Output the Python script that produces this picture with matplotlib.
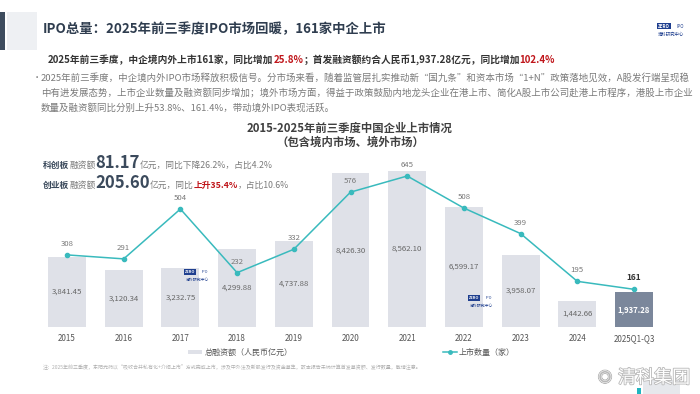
import matplotlib
matplotlib.use("Agg")
import matplotlib.pyplot as plt
import matplotlib.patheffects as pe
from matplotlib.patches import Rectangle

plt.rcParams['font.family'] = ['Noto Sans CJK SC', 'DejaVu Sans']

W, H = 700, 394

years = ['2015', '2016', '2017', '2018', '2019', '2020', '2021', '2022', '2023', '2024', '2025Q1-Q3']
financing = [3841.45, 3120.34, 3232.75, 4299.88, 4737.88, 8426.30, 8562.10, 6599.17, 3958.07, 1442.66, 1937.28]
ipo_count = [308, 291, 504, 232, 332, 576, 645, 508, 399, 195, 161]

title = 'IPO总量：2025年前三季度IPO市场回暖，161家中企上市'
body_lines = [
    '2025年前三季度，中企境内外IPO市场释放积极信号。分市场来看，随着监管层扎实推动新“国九条”和资本市场“1+N”政策落地见效，A股发行端呈现稳',
    '中有进发展态势，上市企业数量及融资额同步增加；境外市场方面，得益于政策鼓励内地龙头企业在港上市、简化A股上市公司赴港上市程序，港股上市企业',
    '数量及融资额同比分别上升53.8%、161.4%，带动境外IPO表现活跃。',
]
footnote = ('注：2025年前三季度，东阳光药以“吸收合并私有化+介绍上市”方式完成上市，涉及中外法及新股发行及资金募集，'
            '故本报告未纳计算首发募资额、发行数量，敬请注意。')

NAVY = '#2f3d4f'
RED = '#c0161b'
GRAY = '#7a7a7a'
BAR = '#dfe1e8'
BAR_LAST = '#7b879b'
TEAL = '#39babd'


def fx(px):
    return px / W


def fy(py):
    return 1 - py / H


fig = plt.figure(figsize=(W / 100, H / 100), dpi=100)
renderer = fig.canvas.get_renderer()


def put_run(x_px, y_px, parts, **common):
    # chain text pieces left to right on one baseline
    x = x_px
    for s, kw in parts:
        opts = dict(common)
        opts.update(kw)
        t = fig.text(fx(x), fy(y_px), s, va='baseline', ha='left', **opts)
        x = t.get_window_extent(renderer).x1
    return x


# header decoration
fig.add_artist(Rectangle((0, fy(50)), fx(5), (50 - 12) / H, transform=fig.transFigure,
                         color='#3e4c5e', lw=0))
fig.add_artist(Rectangle((fx(7), fy(50)), fx(30), (50 - 12) / H, transform=fig.transFigure,
                         color='#eef0f3', lw=0))
fig.text(fx(43), fy(29), title, fontsize=9.6, fontweight='bold', color=NAVY, va='center')

# small logo top right
fig.text(fx(664), fy(26), 'ZERO', fontsize=3.2, color='white', fontweight='bold', va='center', ha='center',
         bbox=dict(boxstyle='square,pad=0.15', fc='#1f3f8f', ec='none'))
fig.text(fx(680), fy(26), 'IPO', fontsize=3.2, color='#1f3f8f', va='center', ha='center')
fig.text(fx(671), fy(34), '清科研究中心', fontsize=3.2, color='#1f3f8f', va='center', ha='center')

# bold summary line
put_run(48, 63, [
    ('2025年前三季度，中企境内外上市161家，同比增加', {}),
    ('25.8%', {'color': RED}),
    ('；首发融资额约合人民币1,937.28亿元，同比增加', {}),
    ('102.4%', {'color': RED}),
], fontsize=7.0, fontweight='bold', color='#333333')

# body text
fig.text(fx(33), fy(78), '•', fontsize=6, color=GRAY, va='center')
for i, line in enumerate(body_lines):
    fig.text(fx(41), fy(78 + 15 * i), line, fontsize=6.8, color=GRAY, va='center')

# chart title
fig.text(0.5, fy(128), '2015-2025年前三季度中国企业上市情况', fontsize=8.2, fontweight='bold',
         color='#404040', ha='center', va='center')
fig.text(0.5, fy(142), '（包含境内市场、境外市场）', fontsize=8.2, fontweight='bold',
         color='#404040', ha='center', va='center')

# STAR / ChiNext stats
put_run(43, 168, [
    ('科创板', {'fontweight': 'bold', 'color': '#3b4a5c'}),
    ('融资额', {}),
    ('81.17', {'fontsize': 12, 'fontweight': 'bold', 'color': '#3b4a5c'}),
    ('亿元，同比下降26.2%，占比4.2%', {}),
], fontsize=6.3, color=GRAY)
put_run(43, 188, [
    ('创业板', {'fontweight': 'bold', 'color': '#3b4a5c'}),
    ('融资额', {}),
    ('205.60', {'fontsize': 12, 'fontweight': 'bold', 'color': '#3b4a5c'}),
    ('亿元，同比', {}),
    ('上升35.4%', {'fontweight': 'bold', 'color': RED}),
    ('，占比10.6%', {}),
], fontsize=6.3, color=GRAY)

# main chart
left_px, right_px = 38.65, 662.35
top_px, bottom_px = 165, 327
ax = fig.add_axes([fx(left_px), fy(bottom_px), (right_px - left_px) / W, (bottom_px - top_px) / H])
x = list(range(len(years)))
colors = [BAR] * (len(years) - 1) + [BAR_LAST]
ax.bar(x, financing, width=0.67, color=colors, zorder=1)
ax.set_xlim(-0.5, len(years) - 0.5)
ax.set_ylim(0, 8891)
for i, v in enumerate(financing):
    last = i == len(years) - 1
    ax.text(i, v / 2, f'{v:,.2f}', ha='center', va='center', fontsize=5.6,
            color='white' if last else '#666666', fontweight='bold' if last else 'normal')
ax.set_xticks(x)
ax.set_xticklabels(years)
ax.tick_params(axis='x', length=0, labelsize=5.8, labelcolor='#555555', pad=5)
ax.set_yticks([])
for s in ax.spines.values():
    s.set_visible(False)
ax.patch.set_alpha(0)

ax2 = ax.twinx()
ax2.plot(x, ipo_count, color=TEAL, lw=1.1, marker='o', ms=3, zorder=3)
ax2.set_ylim(0, 692)
ax2.set_yticks([])
for s in ax2.spines.values():
    s.set_visible(False)
for i, v in enumerate(ipo_count):
    last = i == len(years) - 1
    ax2.annotate(str(v), (i, v), xytext=(0, 5), textcoords='offset points', ha='center', va='bottom',
                 fontsize=6 if last else 5.6, color='#333333' if last else '#777777',
                 fontweight='bold' if last else 'normal')

# in-chart watermarks
for wx, wy in [(197, 272), (481, 298)]:
    fig.text(fx(wx - 7), fy(wy), 'ZERO', fontsize=2.8, color='white', fontweight='bold', va='center',
             ha='center', bbox=dict(boxstyle='square,pad=0.15', fc='#1f3f8f', ec='none'))
    fig.text(fx(wx + 8), fy(wy), 'IPO', fontsize=2.8, color='#1f3f8f', va='center', ha='center')
    fig.text(fx(wx), fy(wy + 8), '清科研究中心', fontsize=2.8, color='#1f3f8f', va='center', ha='center')

# legend
fig.add_artist(Rectangle((fx(188), fy(354)), fx(14), 4 / H, transform=fig.transFigure, color=BAR, lw=0))
fig.text(fx(205), fy(352), '总融资额（人民币亿元）', fontsize=5.8, color='#555555', va='center')
fig.add_artist(plt.Line2D([fx(443), fx(457)], [fy(352), fy(352)], transform=fig.transFigure,
                          color=TEAL, lw=1.1))
fig.add_artist(plt.Line2D([fx(450)], [fy(352)], transform=fig.transFigure, color=TEAL, marker='o', ms=2.5))
fig.text(fx(459), fy(352), '上市数量（家）', fontsize=5.8, color='#555555', va='center')

fig.text(fx(43), fy(367), footnote, fontsize=3.6, color='#b0b0b0', va='center')

# weibo watermark
fig.add_artist(Rectangle((fx(637), 0), fx(4), 6 / H, transform=fig.transFigure, color='#20b5c0', lw=0))
fig.add_artist(Rectangle((fx(643), 0), fx(37), 14 / H, transform=fig.transFigure, color='#e6e8ec', lw=0))
fig.text(fx(605), fy(378), '◎', fontsize=10, color='white', va='center', ha='center',
         path_effects=[pe.withStroke(linewidth=1.2, foreground='#b8b8b8')])
fig.text(fx(618), fy(378), '清科集团', fontsize=13, color='white', va='center',
         path_effects=[pe.withStroke(linewidth=1.2, foreground='#b8b8b8')])

fig.savefig('out.png', dpi=100)
